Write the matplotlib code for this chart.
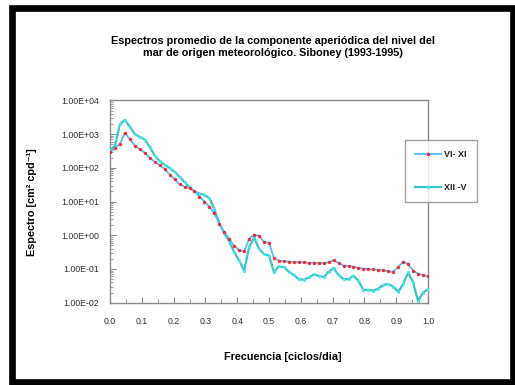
import numpy as np
import matplotlib
matplotlib.use("Agg")
import matplotlib.pyplot as plt
from matplotlib.patches import Rectangle
from matplotlib.ticker import MultipleLocator, LogLocator, FixedLocator, NullFormatter

plt.rcParams['font.family'] = ['Liberation Sans', 'DejaVu Sans']

freq = [i / 64 for i in range(65)]

log_vi_xi = [2.47, 2.58, 2.72, 3.04, 2.85, 2.66, 2.55, 2.45, 2.30, 2.18,
             2.08, 1.97, 1.80, 1.66, 1.52, 1.44, 1.40, 1.31, 1.15, 1.00,
             0.85, 0.65, 0.34, 0.10, -0.10, -0.32, -0.44, -0.48, -0.10, 0.02,
             -0.02, -0.20, -0.22, -0.68, -0.75, -0.77, -0.78, -0.79, -0.80, -0.80,
             -0.82, -0.81, -0.82, -0.83, -0.80, -0.74, -0.82, -0.90, -0.91, -0.93,
             -0.97, -0.99, -1.00, -1.01, -1.03, -1.04, -1.07, -1.08, -0.95, -0.78,
             -0.85, -1.05, -1.14, -1.18, -1.22]

log_xii_v = [2.52, 2.66, 3.30, 3.42, 3.22, 3.00, 2.92, 2.84, 2.62, 2.36,
             2.20, 2.09, 2.00, 1.88, 1.73, 1.58, 1.42, 1.30, 1.24, 1.20,
             1.10, 0.78, 0.35, 0.06, -0.18, -0.50, -0.75, -1.05, -0.35, -0.06,
             -0.40, -0.56, -0.60, -1.10, -0.92, -0.95, -1.08, -1.18, -1.30, -1.32,
             -1.25, -1.16, -1.20, -1.24, -1.08, -0.97, -1.18, -1.30, -1.30, -1.20,
             -1.35, -1.62, -1.62, -1.64, -1.58, -1.47, -1.45, -1.52, -1.68, -1.45,
             -1.10, -1.40, -1.95, -1.70, -1.60]

vi_xi = [10 ** v for v in log_vi_xi]
xii_v = [10 ** v for v in log_xii_v]

series_labels = ["VI- XI", "XII -V"]
ytick_vals = [1e-2, 1e-1, 1e0, 1e1, 1e2, 1e3, 1e4]
ytick_labels = ["1.00E-02", "1.00E-01", "1.00E+00", "1.00E+01", "1.00E+02", "1.00E+03", "1.00E+04"]
xtick_vals = [0.0, 0.1, 0.2, 0.3, 0.4, 0.5, 0.6, 0.7, 0.8, 0.9, 1.0]
xtick_labels = ["0.0", "0.1", "0.2", "0.3", "0.4", "0.5", "0.6", "0.7", "0.8", "0.9", "1.0"]

W, H = 515, 385
fig = plt.figure(figsize=(W / 100, H / 100), dpi=100)
fig.patch.set_facecolor("white")

# outer frame
fig.patches.append(Rectangle((11.5 / W, 1 - 381.5 / H), (513 - 11.5) / W, (381.5 - 7.5) / H,
                             transform=fig.transFigure, fill=False, edgecolor="black",
                             linewidth=4.8, zorder=0))

ax = fig.add_axes([110 / W, 1 - 302.7 / H, 318 / W, 202.2 / H])
ax.set_yscale("log")
ax.set_xlim(0, 1)
ax.set_ylim(1e-2, 1e4)

ax.plot(freq, xii_v, color="#3CC4C8", linewidth=1.6, marker="o", markersize=1.2,
        markerfacecolor="#40E8F0", markeredgecolor="#40E8F0", label=series_labels[1], zorder=3)
ax.plot(freq, vi_xi, color="#55BBFF", linewidth=1.3, marker="o", markersize=2.0,
        markerfacecolor="#FF2020", markeredgecolor="#FF2020", markeredgewidth=0.4,
        label=series_labels[0], zorder=4)

ax.yaxis.set_major_locator(FixedLocator(ytick_vals))
ax.set_yticklabels(ytick_labels)
ax.yaxis.set_minor_locator(LogLocator(base=10, subs=np.arange(2, 10)))
ax.yaxis.set_minor_formatter(NullFormatter())
ax.set_xticks(xtick_vals)
ax.set_xticklabels(xtick_labels)
ax.xaxis.set_minor_locator(MultipleLocator(0.05))

for s in ax.spines.values():
    s.set_color("#8a8a8a")
    s.set_linewidth(1.0)

ax.tick_params(axis="both", which="both", direction="in", color="#8a8a8a", labelcolor="#303030",
               labelsize=6.3)
ax.tick_params(axis="y", which="major", length=4, pad=8)
ax.tick_params(axis="y", which="minor", length=2)
ax.tick_params(axis="x", which="major", length=4, pad=10)
ax.tick_params(axis="x", which="minor", length=3)

ax.set_xlabel("Frecuencia [ciclos/dia]", fontsize=7.8, fontweight="bold")
ax.xaxis.set_label_coords((282.5 - 110) / 318, -(351.7 - 302.7) / 202.2)
ax.set_ylabel("Espectro [cm² cpd⁻¹]", fontsize=7.8, fontweight="bold")
ax.yaxis.set_label_coords((37 - 110) / 318, 1 - (202 - 100.5) / 202.2)

fig.text(273 / W, 1 - 47 / H,
         "Espectros promedio de la componente aperiódica del nivel del\n"
         "mar de origen meteorológico. Siboney (1993-1995)",
         ha="center", va="center", fontsize=7.8, fontweight="bold", linespacing=1.3)

handles, labels = ax.get_legend_handles_labels()
leg = fig.legend(handles[::-1], labels[::-1], loc="center",
                 bbox_to_anchor=(441 / W, 1 - 171 / H), frameon=True, fancybox=False,
                 fontsize=6.5, handlelength=2.8, handletextpad=0.4, labelspacing=2.6,
                 borderpad=1.1, borderaxespad=0)
leg.get_frame().set_edgecolor("#8a8a8a")
leg.get_frame().set_linewidth(1.0)
for t in leg.get_texts():
    t.set_fontweight("bold")
    t.set_color("#202020")

fig.savefig("out.png", dpi=100, facecolor="white")
